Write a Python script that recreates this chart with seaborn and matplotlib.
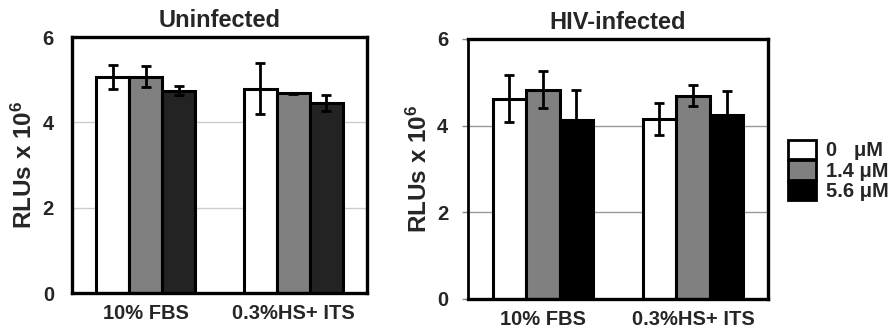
import numpy as np
import pandas as pd
import seaborn as sns
import matplotlib.pyplot as plt
from matplotlib.patches import Patch

# данные
media = ["10% FBS", "0.3%HS+ ITS"]
doses = ["0   μM", "1.4 μM", "5.6 μM"]

uninf_mean = [[5.07, 5.07, 4.74], [4.79, 4.68, 4.45]]
uninf_err = [[0.28, 0.24, 0.11], [0.60, 0.01, 0.18]]
hiv_mean = [[4.62, 4.83, 4.12], [4.16, 4.69, 4.25]]
hiv_err = [[0.54, 0.42, 0.70], [0.37, 0.24, 0.56]]

sns.set_style("white")
plt.rcParams["font.family"] = ["Liberation Sans", "DejaVu Sans"]
plt.rcParams["font.weight"] = "bold"
plt.rcParams["mathtext.default"] = "regular"

fig = plt.figure(figsize=(8.91, 3.29), dpi=100)
ax1 = fig.add_axes([0.0808, 0.1094, 0.3311, 0.7781])
ax2 = fig.add_axes([0.525, 0.0912, 0.337, 0.7903])


def make_df(means):
    rows = []
    for i, m in enumerate(media):
        for j, d in enumerate(doses):
            rows.append({"medium": m, "dose": d, "rlu": means[i][j]})
    return pd.DataFrame(rows)


def draw(ax, means, errs, colors, title, grid_color):
    df = make_df(means)
    sns.barplot(data=df, x="medium", y="rlu", hue="dose", order=media,
                hue_order=doses, palette=colors, width=0.67, errorbar=None,
                edgecolor="black", linewidth=2.2, saturation=1, legend=False, ax=ax)
    # планки погрешностей по центрам столбиков
    bars = list(ax.containers)
    for j, cont in enumerate(bars):
        for i, bar in enumerate(cont):
            xc = bar.get_x() + bar.get_width() / 2
            ax.errorbar(xc, bar.get_height(), yerr=errs[i][j], color="black",
                        elinewidth=2, capsize=3.6, capthick=2, zorder=5)
    ax.set_ylim(0, 6)
    ax.set_xlim(-0.5, 1.5)
    ax.set_yticks([0, 2, 4, 6])
    for y in [2, 4]:
        ax.axhline(y, color=grid_color, lw=1, zorder=0)
    ax.set_title(title, fontsize=17, fontweight="bold", pad=7)
    ax.set_xlabel("")
    ax.set_ylabel("RLUs x 10$^6$", fontsize=17.5, fontweight="bold", labelpad=4)
    ax.tick_params(axis="x", labelsize=14.5, length=0, pad=8)
    ax.tick_params(axis="y", labelsize=14.5, pad=13)
    for s in ax.spines.values():
        s.set_color("black")
        s.set_linewidth(2.4)


draw(ax1, uninf_mean, uninf_err, ["white", "#808080", "#232323"], "Uninfected", "#cccccc")
draw(ax2, hiv_mean, hiv_err, ["white", "#808080", "black"], "HIV-infected", "#999999")

ax1.tick_params(axis="y", length=0)
ax2.tick_params(axis="y", length=4, width=1, color="#888888", left=True, pad=10)
ax2.spines["left"].set_linewidth(2)

handles = [Patch(facecolor=c, edgecolor="black", linewidth=2)
           for c in ["white", "#808080", "black"]]
fig.legend(handles, doses, loc="upper left", bbox_to_anchor=(0.884, 0.575),
           frameon=False, prop={"weight": "bold", "size": 14.5},
           handlelength=1.4, handleheight=1.1, labelspacing=0.0,
           handletextpad=0.5, borderpad=0, borderaxespad=0)

fig.savefig("out.png", dpi=100)
